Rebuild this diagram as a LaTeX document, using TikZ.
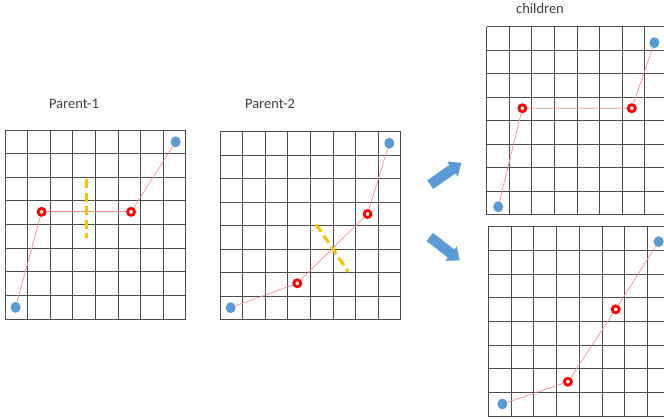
\documentclass[tikz,border=0pt]{standalone}
\usepackage{fontspec}
\setmainfont{Carlito}
\usetikzlibrary{shapes.geometric, shapes.arrows}
\definecolor{ptblue}{HTML}{5B9BD5}
\definecolor{cutorange}{HTML}{FFC000}
\definecolor{txtgray}{HTML}{404040}

\begin{document}
\begin{tikzpicture}[x=1pt, y=-1pt,
  gridline/.style={draw=black!70, line width=1pt},
  endpt/.style={ellipse, fill=ptblue, draw=none, minimum width=10pt, minimum height=11pt, inner sep=0pt},
  waypt/.style={circle, draw=red, fill=white, line width=2.8pt, minimum size=7pt, inner sep=0pt},
  route/.style={draw=red!45, line width=0.7pt},
  cut/.style={draw=cutorange, line width=3pt, dash pattern=on 9pt off 4.5pt},
  title/.style={text=txtgray, font=\fontsize{14.5}{17}\selectfont},
  bigarrow/.style={single arrow, fill=ptblue, draw=none, minimum height=38pt, inner sep=5pt, single arrow head extend=4pt, single arrow tip angle=80}]

\useasboundingbox (0,0) rectangle (664,418);

\node[title] (titleA) at (74,104) {Parent-1};
\node[title] (titleB) at (270,104) {Parent-2};
\node[title] (titleC) at (540,9) {children};

\begin{scope}[shift={(5,130)}, x=22.6pt, y=-23.65pt]
  \foreach \i in {0,...,8} {
    \draw[gridline] (\i,0) -- (\i,8);
    \draw[gridline] (0,\i) -- (8,\i);
  }
  \node[endpt] (oneS) at (0.47,7.5) {};
  \node[waypt] (oneA) at (1.62,3.46) {};
  \node[waypt] (oneB) at (5.58,3.46) {};
  \node[endpt] (oneE) at (7.55,0.5) {};
  \draw[route] (oneS) -- (oneA);
  \draw[route, line width=1.2pt] (oneA) -- (oneB);
  \draw[route] (oneB) -- (oneE);
  \draw[cut] (3.61,2.09) -- (3.61,4.56);
\end{scope}

\begin{scope}[shift={(220,131.7)}, x=22.6pt, y=-23.5pt]
  \foreach \i in {0,...,8} {
    \draw[gridline] (\i,0) -- (\i,8);
    \draw[gridline] (0,\i) -- (8,\i);
  }
  \node[endpt] (twoS) at (0.47,7.49) {};
  \node[waypt] (twoA) at (3.42,6.45) {};
  \node[waypt] (twoB) at (6.53,3.5) {};
  \node[endpt] (twoE) at (7.49,0.49) {};
  \draw[route] (twoS) -- (twoA) -- (twoB) -- (twoE);
  \draw[cut] (4.25,3.94) -- (5.68,5.96);
\end{scope}

\begin{scope}[shift={(486.7,26.7)}, x=22.6pt, y=-23.5pt]
  \foreach \i in {0,...,8} {
    \draw[gridline] (\i,0) -- (\i,8);
    \draw[gridline] (0,\i) -- (8,\i);
  }
  \node[endpt] (kidOneS) at (0.51,7.66) {};
  \node[waypt] (kidOneA) at (1.58,3.47) {};
  \node[waypt] (kidOneB) at (6.42,3.47) {};
  \node[endpt] (kidOneE) at (7.42,0.68) {};
  \draw[route] (kidOneS) -- (kidOneA) -- (kidOneB) -- (kidOneE);
\end{scope}

\begin{scope}[shift={(488.3,226.7)}, x=22.75pt, y=-23.67pt]
  \foreach \i in {0,...,8} {
    \draw[gridline] (\i,0) -- (\i,8);
    \draw[gridline] (0,\i) -- (8,\i);
  }
  \node[endpt] (kidTwoS) at (0.62,7.49) {};
  \node[waypt] (kidTwoA) at (3.5,6.55) {};
  \node[waypt] (kidTwoB) at (5.6,3.49) {};
  \node[endpt] (kidTwoE) at (7.49,0.63) {};
  \draw[route] (kidTwoS) -- (kidTwoA) -- (kidTwoB) -- (kidTwoE);
\end{scope}

\node[bigarrow, rotate=35] (toKidOne) at (443.3,175.5) {};
\node[bigarrow, rotate=-38] (toKidTwo) at (442.3,246.7) {};

\end{tikzpicture}
\end{document}
